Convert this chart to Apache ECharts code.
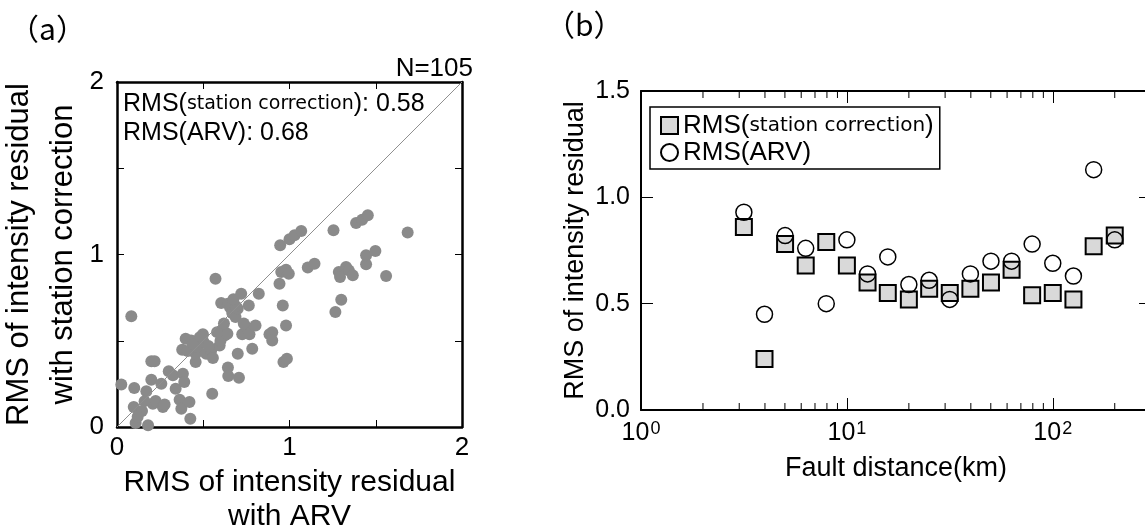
<!DOCTYPE html>
<html><head><meta charset="utf-8">
<script src="https://cdn.jsdelivr.net/npm/echarts@6/dist/echarts.min.js"></script>
<style>html,body{margin:0;padding:0;background:#fff}#c{width:1145px;height:529px}</style>
</head><body><div id="c"></div>
<script>
// ---------- Panel (a): RMS with ARV (x) vs RMS with station correction (y) ----------
const rmsArvA = [0.025,0.083,0.100,0.097,0.108,0.145,0.180,0.170,0.199,0.199,0.218,0.208,0.224,0.266,0.257,0.276,0.300,0.324,0.340,0.363,0.373,0.382,0.390,0.420,0.425,0.378,0.398,0.430,0.456,0.456,0.469,0.498,0.502,0.517,0.546,0.556,0.552,0.571,0.595,0.604,0.614,0.624,0.643,0.645,0.707,0.643,0.656,0.668,0.687,0.700,0.720,0.726,0.700,0.749,0.764,0.768,0.784,0.803,0.822,0.884,0.900,0.900,0.942,0.946,0.961,0.965,0.985,0.980,0.952,0.980,0.996,1.000,1.029,1.068,1.106,1.145,1.255,1.266,1.300,1.286,1.293,1.328,1.344,1.367,1.386,1.421,1.454,1.444,1.444,1.498,1.560,1.685,0.410,0.480,0.530,0.600,0.640,0.690,0.675,0.160,0.120,0.735,0.620,0.580,0.440];
const rmsStationA = [0.247,0.642,0.226,0.116,0.023,0.093,0.010,0.207,0.274,0.381,0.381,0.135,0.151,0.116,0.251,0.130,0.323,0.300,0.222,0.158,0.106,0.309,0.261,0.145,0.048,0.448,0.512,0.502,0.377,0.425,0.464,0.537,0.493,0.425,0.444,0.400,0.193,0.860,0.473,0.719,0.564,0.531,0.345,0.295,0.285,0.715,0.692,0.661,0.638,0.686,0.773,0.537,0.425,0.580,0.705,0.537,0.454,0.589,0.773,0.537,0.550,0.502,0.831,1.053,0.705,0.377,0.396,0.589,0.899,0.912,0.889,1.088,1.111,1.136,0.924,0.947,1.140,0.667,0.738,0.899,0.870,0.928,0.908,0.879,1.183,1.202,1.227,0.943,0.995,1.020,0.875,1.127,0.440,0.520,0.470,0.500,0.540,0.700,0.740,0.150,0.060,0.600,0.600,0.550,0.480];
const oneToOneLine = [[0, 0], [2, 2]];
const axisATicks = {min: 0, max: 2, interval: 0.5};

// ---------- Panel (b): RMS vs fault distance ----------
const faultDistance = [3.16, 3.98, 5.01, 6.31, 7.94, 10.0, 12.6, 15.8, 20.0, 25.1, 31.6, 39.8, 50.1, 63.1, 79.4, 100, 126, 158, 200];
const rmsStationB  = [0.86, 0.24, 0.78, 0.68, 0.79, 0.68, 0.60, 0.55, 0.52, 0.57, 0.55, 0.57, 0.60, 0.66, 0.54, 0.55, 0.52, 0.77, 0.82];
const rmsArvB      = [0.93, 0.45, 0.82, 0.76, 0.50, 0.80, 0.64, 0.72, 0.59, 0.61, 0.52, 0.64, 0.70, 0.70, 0.78, 0.69, 0.63, 1.13, 0.80];
const xMajorTicks = [1, 10, 100];
const xMajorExponents = ['0', '1', '2'];
const xMinorTicks = [2,3,4,5,6,7,8,9,20,30,40,50,60,70,80,90,200,300];
const yTicksB = ['0.0', '0.5', '1.0', '1.5'];

const F = 'Liberation Sans, Arial, sans-serif';
const FS = 'DejaVu Sans, sans-serif';
const BLACK = '#000';

function boxAxis(extra) {
  return Object.assign({
    axisLine: {show: true, onZero: false, lineStyle: {color: BLACK, width: 2}},
    axisTick: {show: true, inside: true, length: 7, lineStyle: {color: BLACK, width: 1}},
    splitLine: {show: false},
  }, extra);
}

const chart = echarts.init(document.getElementById('c'), null, {renderer: 'canvas'});
const option = {
  animation: false,
  backgroundColor: '#fff',
  textStyle: {fontFamily: F, color: BLACK},
  grid: [
    {left: 117, top: 82, width: 345, height: 345, outerBoundsMode: 'none', containLabel: false},
    {left: 641, top: 91, width: 510, height: 319, outerBoundsMode: 'none', containLabel: false}
  ],
  xAxis: [
    boxAxis({gridIndex: 0, type: 'value', position: 'bottom', min: axisATicks.min, max: axisATicks.max, interval: axisATicks.interval,
      axisLine: {show: true, onZero: false, lineStyle: {color: BLACK, width: 2.5}},
      axisLabel: {show: true, margin: 8, fontSize: 26, fontFamily: F, color: BLACK,
        formatter: v => (v % 1 === 0 ? String(v) : '')},
      name: 'RMS of intensity residual\nwith ARV', nameLocation: 'middle', nameGap: 39,
      nameTextStyle: {fontSize: 30, lineHeight: 34, fontFamily: F, color: BLACK}}),
    boxAxis({gridIndex: 0, type: 'value', position: 'top', min: axisATicks.min, max: axisATicks.max, interval: axisATicks.interval,
      axisLine: {show: true, onZero: false, lineStyle: {color: BLACK, width: 2.5}},
      axisLabel: {show: false}}),
    boxAxis({gridIndex: 1, type: 'log', logBase: 10, position: 'bottom', min: 1, max: 300,
      axisTick: {show: true, inside: true, length: 12, lineStyle: {color: BLACK, width: 1}},
      axisLabel: {show: true, margin: 10, color: BLACK,
        formatter: v => { const i = xMajorTicks.indexOf(Math.round(v)); return i < 0 ? '' : '{b|10}{s|' + xMajorExponents[i] + '}'; },
        rich: {b: {fontSize: 25, fontFamily: F, color: BLACK, lineHeight: 26, verticalAlign: 'bottom'},
               s: {fontSize: 18, fontFamily: F, color: BLACK, lineHeight: 18, verticalAlign: 'top', padding: [0, 0, 12, 1]}}},
      name: 'Fault distance(km)', nameLocation: 'middle', nameGap: 42,
      nameTextStyle: {fontSize: 27, fontFamily: F, color: BLACK}}),
    boxAxis({gridIndex: 1, type: 'log', logBase: 10, position: 'top', min: 1, max: 300,
      axisTick: {show: true, inside: true, length: 12, lineStyle: {color: BLACK, width: 1}},
      axisLabel: {show: false}})
  ],
  yAxis: [
    boxAxis({gridIndex: 0, type: 'value', position: 'left', min: axisATicks.min, max: axisATicks.max, interval: axisATicks.interval,
      axisLine: {show: true, onZero: false, lineStyle: {color: BLACK, width: 2.5}},
      axisLabel: {show: true, margin: 13, fontSize: 26, fontFamily: F, color: BLACK,
        formatter: v => (v % 1 === 0 ? String(v) : '')},
      name: 'RMS of intensity residual\nwith station correction', nameLocation: 'middle', nameRotate: 90, nameGap: 23,
      nameTextStyle: {fontSize: 31, lineHeight: 44, fontFamily: F, color: BLACK}}),
    boxAxis({gridIndex: 0, type: 'value', position: 'right', min: axisATicks.min, max: axisATicks.max, interval: axisATicks.interval,
      axisLine: {show: true, onZero: false, lineStyle: {color: BLACK, width: 2.5}},
      axisLabel: {show: false}}),
    boxAxis({gridIndex: 1, type: 'value', position: 'left', min: 0, max: 1.5, interval: 0.5,
      axisTick: {show: true, inside: true, length: 12, lineStyle: {color: BLACK, width: 1}},
      axisLabel: {show: true, margin: 11, fontSize: 25, fontFamily: F, color: BLACK,
        formatter: v => yTicksB[Math.round(v / 0.5)]},
      name: 'RMS of intensity residual', nameLocation: 'middle', nameRotate: 90, nameGap: 50,
      nameTextStyle: {fontSize: 27, lineHeight: 30, fontFamily: F, color: BLACK}}),
    boxAxis({gridIndex: 1, type: 'value', position: 'right', min: 0, max: 1.5, interval: 0.5,
      axisTick: {show: true, inside: true, length: 12, lineStyle: {color: BLACK, width: 1}},
      axisLabel: {show: false}})
  ],
  legend: {
    data: ['RMS(station correction)', 'RMS(ARV)'],
    orient: 'vertical', left: 650, top: 107,
    itemWidth: 17, itemHeight: 17, itemGap: 0,
    padding: [5, 6, 3, 10],
    borderColor: BLACK, borderWidth: 1.5, borderRadius: 0,
    backgroundColor: '#fff',
    selectedMode: false,
    formatter: name => name === 'RMS(ARV)' ? '{L|RMS(ARV)}' : '{L|RMS(}{s|station correction}{L|)}',
    textStyle: {color: BLACK, lineHeight: 27,
      rich: {L: {fontSize: 26, fontFamily: F, color: BLACK, lineHeight: 27},
             s: {fontSize: 20, fontFamily: FS, color: BLACK, lineHeight: 27}}}
  },
  graphic: [
    {type: 'text', left: 9, top: 14, style: {text: '（a）', fontSize: 30, fontFamily: 'Noto Sans CJK JP', fill: BLACK}},
    {type: 'text', left: 545, top: 10, style: {text: '（b）', fontSize: 30, fontFamily: 'Noto Sans CJK JP', fill: BLACK}},
    {type: 'text', right: 1145 - 473, top: 56, style: {text: 'N=105', fontSize: 26, fontFamily: F, fill: BLACK}},
    {type: 'text', left: 123, top: 92, z: 100, style: {
      text: '{L|RMS(}{s|station correction}{L|): 0.58}\n{L|RMS(ARV): 0.68}',
      fill: BLACK,
      rich: {L: {fontSize: 25, fontFamily: F, fill: BLACK, lineHeight: 29},
             s: {fontSize: 19, fontFamily: FS, fill: BLACK, lineHeight: 29}}}}
  ],
  series: [
    {name: 'RMS of intensity residual (a)', type: 'scatter', xAxisIndex: 0, yAxisIndex: 0,
      data: rmsArvA.map((x, i) => [x, rmsStationA[i]]),
      symbol: 'circle', symbolSize: 12, itemStyle: {color: '#8a8a8a', opacity: 1}, z: 2},
    {name: '1:1', type: 'line', xAxisIndex: 0, yAxisIndex: 0, data: oneToOneLine,
      symbol: 'none', lineStyle: {color: '#8f8f8f', width: 1}, z: 3, silent: true},
    {name: 'RMS(station correction)', type: 'scatter', xAxisIndex: 2, yAxisIndex: 2,
      data: faultDistance.map((d, i) => [d, rmsStationB[i]]),
      symbol: 'rect', symbolSize: 16,
      itemStyle: {color: '#d9d9d9', borderColor: BLACK, borderWidth: 2, opacity: 1}, z: 3},
    {name: 'RMS(ARV)', type: 'scatter', xAxisIndex: 2, yAxisIndex: 2,
      data: faultDistance.map((d, i) => [d, rmsArvB[i]]),
      symbol: 'circle', symbolSize: 16,
      itemStyle: {color: 'rgba(255,255,255,0)', borderColor: BLACK, borderWidth: 1.5, opacity: 1}, z: 4},
    {name: 'minor ticks', type: 'custom', xAxisIndex: 2, yAxisIndex: 2, silent: true, clip: false, z: 5,
      data: xMinorTicks.map(v => [v, 0]),
      renderItem: (params, api) => {
        const b = api.coord([api.value(0), 0]);
        const t = api.coord([api.value(0), 1.5]);
        return {type: 'group', children: [
          {type: 'line', shape: {x1: b[0], y1: b[1], x2: b[0], y2: b[1] - 7}, style: {stroke: BLACK, lineWidth: 1}},
          {type: 'line', shape: {x1: t[0], y1: t[1], x2: t[0], y2: t[1] + 7}, style: {stroke: BLACK, lineWidth: 1}}
        ]};
      }}
  ]
};
chart.setOption(option);
</script>
</body></html>
